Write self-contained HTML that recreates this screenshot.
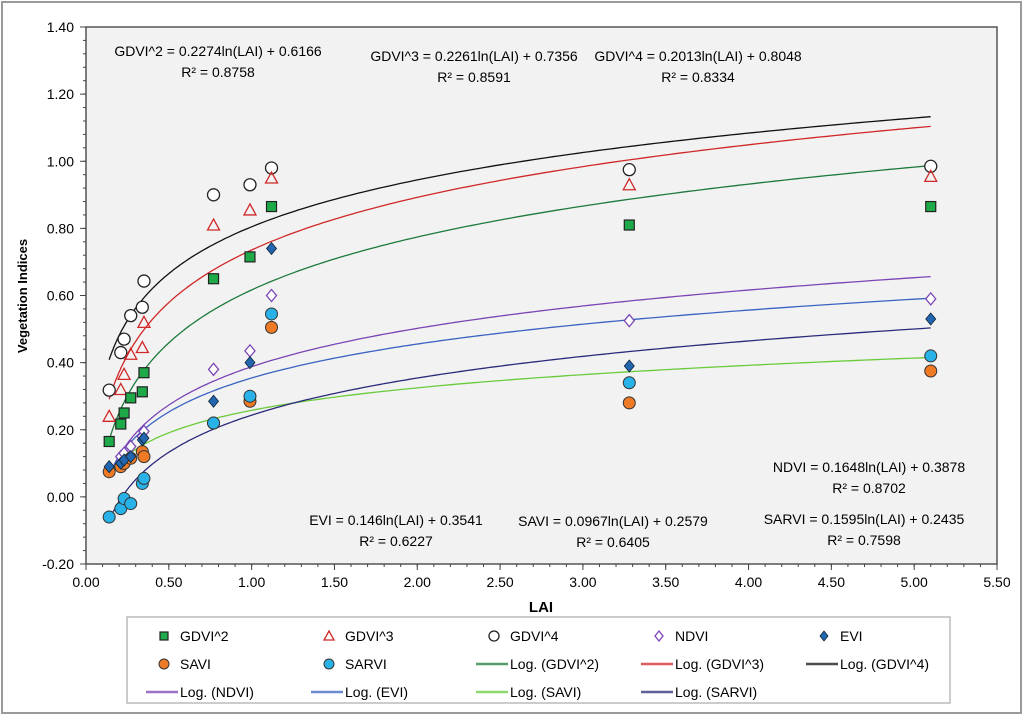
<!DOCTYPE html>
<html><head><meta charset="utf-8"><style>
body{margin:0;background:#fff}
svg{display:block;font-family:"Liberation Sans",Arial,sans-serif}
</style></head><body>
<svg id="chart" width="1024" height="716">
<rect x="2" y="2" width="1019" height="711" fill="#fff" stroke="#9a9a9a" stroke-width="2"/>
<rect x="86" y="27" width="911" height="537" fill="#f2f2f2" stroke="#555" stroke-width="1.5"/>
<g id="axes"></g>
<g id="trends"></g>
<g id="marks"></g>
<g font-size="14" fill="#000">
<text x="218" y="56" text-anchor="middle">GDVI^2 = 0.2274ln(LAI) + 0.6166</text>
<text x="218" y="77" text-anchor="middle">R² = 0.8758</text>
<text x="474" y="61" text-anchor="middle">GDVI^3 = 0.2261ln(LAI) + 0.7356</text>
<text x="474" y="82" text-anchor="middle">R² = 0.8591</text>
<text x="698" y="61" text-anchor="middle">GDVI^4 = 0.2013ln(LAI) + 0.8048</text>
<text x="698" y="82" text-anchor="middle">R² = 0.8334</text>
<text x="869" y="472" text-anchor="middle">NDVI = 0.1648ln(LAI) + 0.3878</text>
<text x="869" y="493" text-anchor="middle">R² = 0.8702</text>
<text x="396" y="525" text-anchor="middle">EVI = 0.146ln(LAI) + 0.3541</text>
<text x="396" y="546" text-anchor="middle">R² = 0.6227</text>
<text x="613" y="526" text-anchor="middle">SAVI = 0.0967ln(LAI) + 0.2579</text>
<text x="613" y="547" text-anchor="middle">R² = 0.6405</text>
<text x="864" y="524" text-anchor="middle">SARVI = 0.1595ln(LAI) + 0.2435</text>
<text x="864" y="545" text-anchor="middle">R² = 0.7598</text>
</g>
<text x="541" y="612" font-size="15" font-weight="bold" text-anchor="middle">LAI</text>
<text transform="translate(27,296) rotate(-90)" font-size="13" font-weight="bold" text-anchor="middle">Vegetation Indices</text>
<rect x="127" y="617" width="823" height="86" fill="#fff" stroke="#bbb" stroke-width="1.5"/>
<g id="legend"></g>
</svg>
<script>
const lai = [0.14,0.21,0.23,0.27,0.34,0.35,0.77,0.99,1.12,3.28,5.10];
const gdvi2 = [0.165,0.217,0.25,0.295,0.313,0.37,0.65,0.715,0.865,0.81,0.865];
const gdvi3 = [0.24,0.32,0.365,0.425,0.445,0.52,0.81,0.855,0.95,0.93,0.955];
const gdvi4 = [0.318,0.43,0.47,0.54,0.565,0.643,0.90,0.93,0.98,0.975,0.985];
const ndvi = [0.08,0.12,0.13,0.15,0.18,0.195,0.38,0.435,0.60,0.525,0.59];
const evi = [0.09,0.10,0.11,0.12,0.17,0.175,0.285,0.40,0.74,0.39,0.53];
const savi = [0.075,0.09,0.10,0.115,0.135,0.12,0.22,0.285,0.505,0.28,0.375];
const sarvi = [-0.06,-0.035,-0.005,-0.02,0.04,0.055,0.22,0.30,0.545,0.34,0.42];
const slopes = [0.2274,0.2261,0.2013,0.1648,0.146,0.0967,0.1595];
const intercepts = [0.6166,0.7356,0.8048,0.3878,0.3541,0.2579,0.2435];
const xTicks = [0,0.5,1,1.5,2,2.5,3,3.5,4,4.5,5,5.5];
const yTicks = [-0.2,0,0.2,0.4,0.6,0.8,1.0,1.2,1.4];

const NS='http://www.w3.org/2000/svg';
const X0=86,X1=997,Y0=564,Y1=27;
const xs=v=>X0+(v-0)/(5.5)*(X1-X0);
const ys=v=>Y0-(v+0.2)/1.6*(Y0-Y1);
function mk(tag,attrs,parent){const e=document.createElementNS(NS,tag);for(const k in attrs)e.setAttribute(k,attrs[k]);parent.appendChild(e);return e;}
const axes=document.getElementById('axes');
yTicks.forEach(t=>{
  const y=ys(t);
  const l=mk('line',{x1:X0-6,x2:X0,y1:y,y2:y,stroke:'#444'},axes);
  
  
  const tx=mk('text',{x:X0-12,y:y+5,'font-size':14,'text-anchor':'end'},axes);
  tx.textContent=t.toFixed(2);
  
  
});
for(let v=-0.2;v<1.4;v+=0.04){const y=ys(v);mk('line',{x1:X0-3,x2:X0,y1:y,y2:y,stroke:'#444'},axes);}
xTicks.forEach(t=>{
  const x=xs(t);
  const l=mk('line',{x1:x,x2:x,y1:Y0,y2:Y0+6,stroke:'#444'},axes);
  
  
  const tx=mk('text',{x:x,y:Y0+23,'font-size':14,'text-anchor':'middle'},axes);
  tx.textContent=t.toFixed(2);
  
  
});
for(let v=0;v<5.5;v+=0.1){const x=xs(v);mk('line',{x1:x,x2:x,y1:Y0,y2:Y0+3,stroke:'#444'},axes);}

const trendColors=['#1e7a3c','#d02828','#111','#7b45b5','#3a63c2','#6acb3a','#2b2a7a'];
const trendNames=['gdvi2','gdvi3','gdvi4','ndvi','evi','savi','sarvi'];
const tg=document.getElementById('trends');
slopes.forEach((s,i)=>{
  let d='';
  for(let k=0;k<=200;k++){const v=0.14+(5.1-0.14)*Math.pow(k/200,2);const y=s*Math.log(v)+intercepts[i];d+=(k?'L':'M')+xs(v).toFixed(1)+','+ys(y).toFixed(1);}
  const p=mk('path',{d:d,fill:'none',stroke:trendColors[i],'stroke-width':1.3},tg);
  
  
});

function marker(type,x,y,parent,small){
  const r=small?5:6;
  let e;
  if(type==='sq') e=mk('rect',{x:x-r+1,y:y-r+1,width:2*r-2,height:2*r-2,fill:'#1faa4a',stroke:'#222','stroke-width':1.2},parent);
  else if(type==='tri') e=mk('polygon',{points:`${x},${y-r} ${x-r},${y+r-1} ${x+r},${y+r-1}`,fill:'none',stroke:'#d02828','stroke-width':1.3},parent);
  else if(type==='circ') e=mk('circle',{cx:x,cy:y,r:r,fill:'#fff',stroke:'#222','stroke-width':1.3},parent);
  else if(type==='odia') e=mk('polygon',{points:`${x},${y-r} ${x+r-1},${y} ${x},${y+r} ${x-r+1},${y}`,fill:'#fff',stroke:'#7b45b5','stroke-width':1.3},parent);
  else if(type==='dia') e=mk('polygon',{points:`${x},${y-r} ${x+r-1},${y} ${x},${y+r} ${x-r+1},${y}`,fill:'#2266b0',stroke:'#123','stroke-width':0.8},parent);
  else if(type==='orange') e=mk('circle',{cx:x,cy:y,r:r,fill:'#ee7a25',stroke:'#333','stroke-width':1},parent);
  else e=mk('circle',{cx:x,cy:y,r:r,fill:'#29b2e8',stroke:'#333','stroke-width':1},parent);
  return e;
}
const series=[[gdvi4,'circ','gdvi4'],[gdvi3,'tri','gdvi3'],[gdvi2,'sq','gdvi2'],[ndvi,'odia','ndvi'],[savi,'orange','savi'],[sarvi,'blue','sarvi'],[evi,'dia','evi']];
const mg=document.getElementById('marks');
series.forEach(([vals,type,name])=>{
  vals.forEach((v,i)=>{
    const e=marker(type,xs(lai[i]),ys(v),mg,false);
    
    
  });
});

const lg=document.getElementById('legend');
const items=[['sq','GDVI^2'],['tri','GDVI^3'],['circ','GDVI^4'],['odia','NDVI'],['dia','EVI'],['orange','SAVI'],['blue','SARVI'],
['L0','Log. (GDVI^2)'],['L1','Log. (GDVI^3)'],['L2','Log. (GDVI^4)'],['L3','Log. (NDVI)'],['L4','Log. (EVI)'],['L5','Log. (SAVI)'],['L6','Log. (SARVI)']];
items.forEach((it,i)=>{
  const col=i%5,row=Math.floor(i/5);
  const bx=148+col*165, by=636+row*28;
  const g=mk('g',{},lg);
  
  
  if(it[0][0]==='L'){const c=trendColors[+it[0][1]];mk('line',{x1:bx-2,x2:bx+30,y1:by,y2:by,stroke:c,'stroke-width':2.5,opacity:0.75},g);}
  else marker(it[0],bx+16,by,g,true);
  const t=mk('text',{x:bx+32,y:by+5,'font-size':14},g);
  t.textContent=it[1];
});
</script>
</body></html>
